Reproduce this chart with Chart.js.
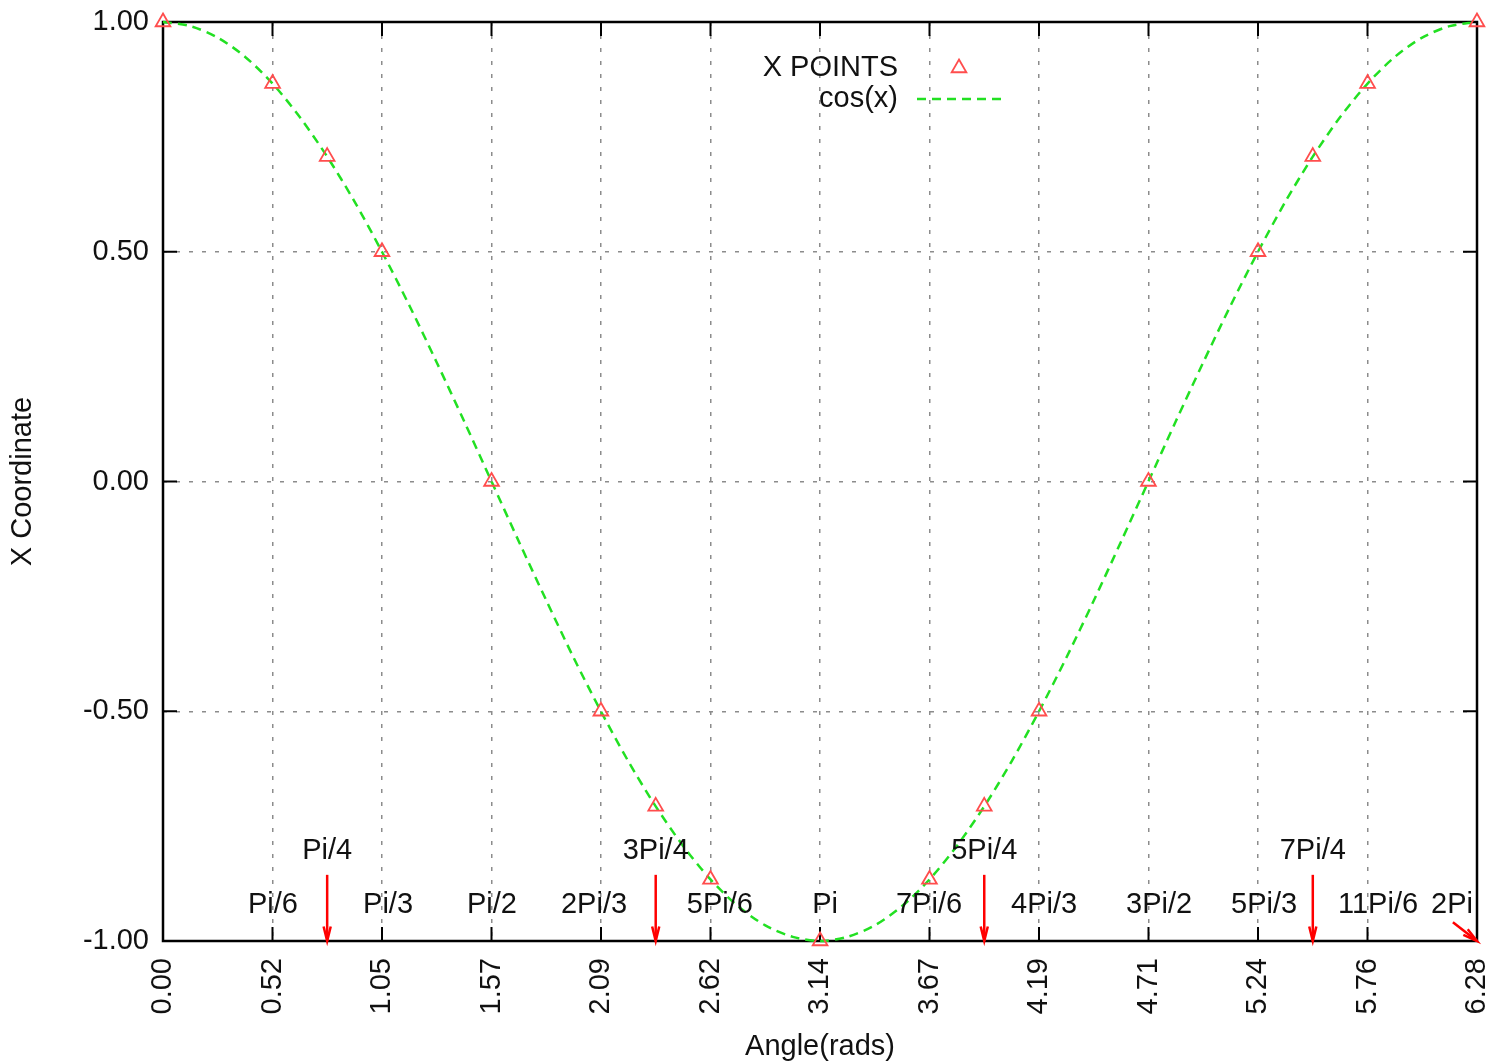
<!DOCTYPE html>
<html>
<head>
<meta charset="utf-8">
<script src="https://cdn.jsdelivr.net/npm/chart.js@4.4.1/dist/chart.umd.min.js"></script>
<style>
  html, body { margin: 0; padding: 0; background: #fff; }
  canvas { display: block; }
</style>
</head>
<body>
<canvas id="chart" width="1506" height="1064"></canvas>
<script>
// --- data ---
const xTickValues = [0, 0.5236, 1.0472, 1.5708, 2.0944, 2.618, 3.1416, 3.6652, 4.1888, 4.7124, 5.236, 5.7596, 6.2832];
const yTickValues = [-1, -0.5, 0, 0.5, 1];

// triangles ("X POINTS")
const pointX = [0, 0.524, 0.785, 1.047, 1.571, 2.094, 2.356, 2.618, 3.142, 3.665, 3.927, 4.189, 4.712, 5.236, 5.498, 5.760, 6.283];
const pointY = [1, 0.866, 0.707, 0.5, 0, -0.5, -0.707, -0.866, -1, -0.866, -0.707, -0.5, 0, 0.5, 0.707, 0.866, 1];

// dashed cos(x) curve
const curveX = [0, 0.131, 0.262, 0.393, 0.524, 0.654, 0.785, 0.916, 1.047, 1.178, 1.309, 1.440,
                1.571, 1.702, 1.833, 1.963, 2.094, 2.225, 2.356, 2.487, 2.618, 2.749, 2.880, 3.011,
                3.142, 3.272, 3.403, 3.534, 3.665, 3.796, 3.927, 4.058, 4.189, 4.320, 4.451, 4.581,
                4.712, 4.843, 4.974, 5.105, 5.236, 5.367, 5.498, 5.629, 5.760, 5.890, 6.021, 6.152, 6.283];
const curveY = [1, 0.991, 0.966, 0.924, 0.866, 0.793, 0.707, 0.609, 0.5, 0.383, 0.259, 0.131,
                0, -0.131, -0.259, -0.383, -0.5, -0.609, -0.707, -0.793, -0.866, -0.924, -0.966, -0.991,
                -1, -0.991, -0.966, -0.924, -0.866, -0.793, -0.707, -0.609, -0.5, -0.383, -0.259, -0.131,
                0, 0.131, 0.259, 0.383, 0.5, 0.609, 0.707, 0.793, 0.866, 0.924, 0.966, 0.991, 1];

// text labels near the bottom
const lowLabels = ['Pi/6', 'Pi/3', 'Pi/2', '2Pi/3', '5Pi/6', 'Pi', '7Pi/6', '4Pi/3', '3Pi/2', '5Pi/3', '11Pi/6', '2Pi'];
const lowLabelX = [0.526, 1.076, 1.573, 2.061, 2.663, 3.166, 3.663, 4.213, 4.763, 5.265, 5.810, 6.164];
const lowLabelY = -0.922;
const highLabels = ['Pi/4', '3Pi/4', '5Pi/4', '7Pi/4'];
const highLabelX = [0.785, 2.356, 3.927, 5.498];
const highLabelY = -0.804;

// red arrows
const arrowFromX = [0.785, 2.356, 3.927, 5.498, 6.168];
const arrowFromY = [-0.856, -0.856, -0.856, -0.856, -0.959];
const arrowToX = [0.785, 2.356, 3.927, 5.498, 6.2832];
const arrowToY = [-1, -1, -1, -1, -1];

const FONT = '"Liberation Sans", Arial, sans-serif';
const FS = 29;
const pointColor = '#ff4d4d';
const curveColor = '#22e022';

const fixedSize = {
  y: (scale) => { scale.width = 163; scale.paddingTop = 0; scale.paddingBottom = 0; },
  x: (scale) => { scale.height = 123; scale.paddingLeft = 0; scale.paddingRight = 0; }
};

const framePlugin = {
  id: 'frame',
  beforeDatasetsDraw(chart) {
    const { ctx, chartArea: a, scales: { x, y } } = chart;
    ctx.save();
    ctx.strokeStyle = '#000';
    ctx.lineWidth = 2;
    const tl = 14;
    ctx.beginPath();
    xTickValues.forEach(v => {
      const px = x.getPixelForValue(v);
      ctx.moveTo(px, a.bottom); ctx.lineTo(px, a.bottom - tl);
      ctx.moveTo(px, a.top); ctx.lineTo(px, a.top + tl);
    });
    yTickValues.forEach(v => {
      const py = y.getPixelForValue(v);
      ctx.moveTo(a.left, py); ctx.lineTo(a.left + tl, py);
      ctx.moveTo(a.right, py); ctx.lineTo(a.right - tl, py);
    });
    ctx.stroke();
    ctx.lineWidth = 2.5;
    ctx.strokeRect(a.left, a.top, a.right - a.left, a.bottom - a.top);
    ctx.restore();
  },
  afterDatasetsDraw(chart) {
    const { ctx, scales: { x, y } } = chart;
    ctx.save();
    // arrows
    ctx.strokeStyle = '#ff0000';
    ctx.lineWidth = 2.5;
    arrowFromX.forEach((fx, i) => {
      const x0 = x.getPixelForValue(fx), y0 = y.getPixelForValue(arrowFromY[i]);
      const x1 = x.getPixelForValue(arrowToX[i]), y1 = y.getPixelForValue(arrowToY[i]);
      ctx.beginPath();
      ctx.moveTo(x0, y0); ctx.lineTo(x1, y1);
      ctx.stroke();
      const ang = Math.atan2(y1 - y0, x1 - x0);
      const hl = 15, ha = 0.24;
      ctx.beginPath();
      ctx.moveTo(x1 - hl * Math.cos(ang - ha), y1 - hl * Math.sin(ang - ha));
      ctx.lineTo(x1, y1);
      ctx.lineTo(x1 - hl * Math.cos(ang + ha), y1 - hl * Math.sin(ang + ha));
      ctx.stroke();
    });
    // labels
    ctx.fillStyle = '#111';
    ctx.font = FS + 'px ' + FONT;
    ctx.textAlign = 'center';
    ctx.textBaseline = 'middle';
    lowLabels.forEach((t, i) => ctx.fillText(t, x.getPixelForValue(lowLabelX[i]), y.getPixelForValue(lowLabelY)));
    highLabels.forEach((t, i) => ctx.fillText(t, x.getPixelForValue(highLabelX[i]), y.getPixelForValue(highLabelY)));
    ctx.restore();
  },
  afterDraw(chart) {
    const { ctx } = chart;
    ctx.save();
    ctx.fillStyle = '#111';
    ctx.font = FS + 'px ' + FONT;
    ctx.textAlign = 'right';
    ctx.textBaseline = 'middle';
    ctx.fillText(chart.data.datasets[0].label, 898, 68);
    ctx.fillText(chart.data.datasets[1].label, 898, 99);
    // sample triangle
    ctx.strokeStyle = pointColor;
    ctx.lineWidth = 1.8;
    const r = 8.5, cx = 959, cy = 68;
    ctx.beginPath();
    ctx.moveTo(cx, cy - r);
    ctx.lineTo(cx + r * 0.866, cy + r * 0.5);
    ctx.lineTo(cx - r * 0.866, cy + r * 0.5);
    ctx.closePath();
    ctx.stroke();
    // sample dashed line
    ctx.strokeStyle = curveColor;
    ctx.lineWidth = 2.5;
    ctx.setLineDash([9, 6]);
    ctx.beginPath();
    ctx.moveTo(917, 99); ctx.lineTo(1002, 99);
    ctx.stroke();
    ctx.restore();
  }
};

new Chart(document.getElementById('chart'), {
  type: 'scatter',
  data: {
    datasets: [
      {
        label: 'X POINTS',
        data: pointX.map((v, i) => ({ x: v, y: pointY[i] })),
        showLine: false,
        pointStyle: 'triangle',
        pointRadius: 8.5,
        pointBorderColor: pointColor,
        pointBackgroundColor: 'rgba(0,0,0,0)',
        pointBorderWidth: 1.8,
        clip: false,
        order: 0
      },
      {
        label: 'cos(x)',
        data: curveX.map((v, i) => ({ x: v, y: curveY[i] })),
        showLine: true,
        borderColor: curveColor,
        borderWidth: 2.5,
        borderDash: [9, 6],
        tension: 0.3,
        pointRadius: 0,
        clip: false,
        order: 1
      }
    ]
  },
  options: {
    responsive: false,
    animation: false,
    devicePixelRatio: 1,
    layout: { padding: { top: 22, right: 29, left: 0, bottom: 0 } },
    plugins: { legend: { display: false }, tooltip: { enabled: false } },
    scales: {
      x: {
        type: 'linear',
        min: 0,
        max: 6.2832,
        afterBuildTicks: (scale) => { scale.ticks = xTickValues.map(v => ({ value: v })); },
        afterFit: fixedSize.x,
        ticks: {
          autoSkip: false,
          minRotation: 90,
          maxRotation: 90,
          padding: 17,
          color: '#111',
          font: { family: FONT, size: FS },
          callback: (v) => v.toFixed(2)
        },
        grid: { color: '#8c8c8c', lineWidth: 1.5, drawTicks: false },
        border: { display: false, dash: [4, 9] },
        title: {
          display: true,
          text: 'Angle(rads)',
          color: '#111',
          font: { family: FONT, size: FS },
          padding: { top: 0, bottom: 0 }
        }
      },
      y: {
        min: -1,
        max: 1,
        afterBuildTicks: (scale) => { scale.ticks = yTickValues.map(v => ({ value: v })); },
        afterFit: fixedSize.y,
        ticks: {
          padding: 14,
          color: '#111',
          font: { family: FONT, size: FS },
          callback: (v) => v.toFixed(2)
        },
        grid: { color: '#8c8c8c', lineWidth: 1.5, drawTicks: false },
        border: { display: false, dash: [4, 9] },
        title: {
          display: true,
          text: 'X Coordinate',
          color: '#111',
          font: { family: FONT, size: FS },
          padding: { top: 6, bottom: 0 }
        }
      }
    }
  },
  plugins: [framePlugin]
});
</script>
</body>
</html>
